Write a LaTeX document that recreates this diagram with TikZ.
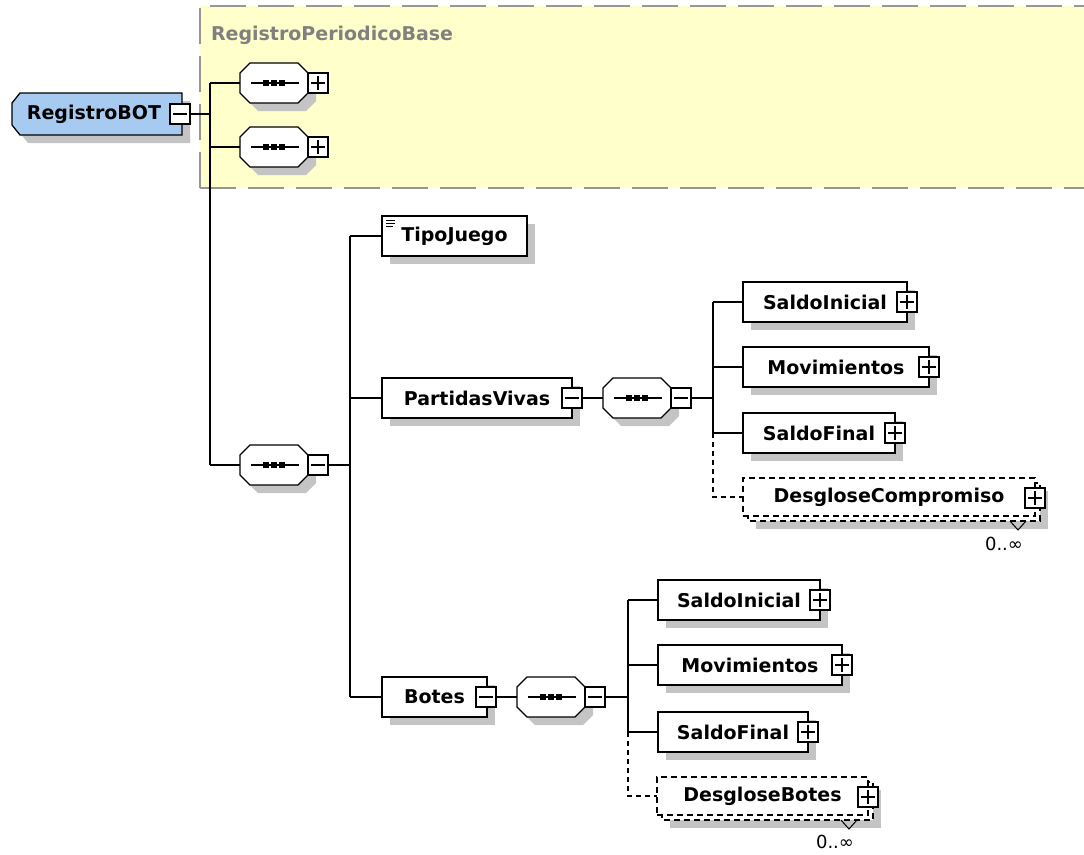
\documentclass[tikz,border=0pt]{standalone}
\usepackage{fontspec}
\setmainfont{DejaVu Sans}
\usetikzlibrary{shadows}
\definecolor{rootblue}{RGB}{166,202,240}
\definecolor{groupyellow}{RGB}{255,255,204}
\definecolor{groupline}{RGB}{150,150,150}
\definecolor{grouptext}{RGB}{128,128,128}
\definecolor{shadowgray}{RGB}{196,196,196}

% octagon outline of a sequence compositor, centred at the origin
\newcommand\octpath{(-34,-10) -- (-24,-20) -- (24,-20) -- (34,-10) -- (34,10) -- (24,20) -- (-24,20) -- (-34,10) -- cycle}

% sequence compositor: #1 name, #2 x, #3 y, #4 style of the expand box
\newcommand\seqnode[4]{%
  \begin{scope}[shift={(#2,#3)}]
    \begin{scope}[shift={(8,8)}]
      \fill[shadowgray] \octpath;
    \end{scope}
    \draw[fill=white, line width=1.3pt] \octpath;
    \node[minimum width=68pt, minimum height=40pt] (#1) at (0,0) {};
    \draw[line width=1.3pt] (-23,0) -- (25,0);
    \foreach \dx in {-8,0,8} \fill (\dx-3,-3) rectangle (\dx+3,3);
    \node[#4] (#1-pm) at (44,0) {};
  \end{scope}}

\begin{document}
\begin{tikzpicture}[x=1pt, y=-1pt,
  every node/.style={inner sep=0pt, outer sep=0pt},
  lbl/.style={font=\bfseries\fontsize{19}{19}\selectfont},
  elem/.style={lbl, draw, fill=white, line width=1.3pt, minimum height=40pt,
    drop shadow={shadow xshift=8pt, shadow yshift=-8pt, fill=shadowgray, opacity=1}},
  multi/.style={lbl, draw, fill=white, line width=1.2pt, minimum height=38pt,
    dash pattern=on 6pt off 4pt},
  backbox/.style={draw, fill=white, line width=1.2pt, dash pattern=on 6pt off 4pt},
  pm/.style={draw, fill=white, line width=1.1pt, minimum width=20pt, minimum height=20pt},
  plusbox/.style={pm, path picture={
    \draw[line width=1.1pt]
      ([xshift=3pt]path picture bounding box.west) -- ([xshift=-3pt]path picture bounding box.east)
      ([yshift=-3pt]path picture bounding box.north) -- ([yshift=3pt]path picture bounding box.south);}},
  minusbox/.style={pm, path picture={
    \draw[line width=1.1pt]
      ([xshift=3pt]path picture bounding box.west) -- ([xshift=-3pt]path picture bounding box.east);}},
  conn/.style={line width=1.3pt},
  optconn/.style={conn, dash pattern=on 5pt off 4pt},
  occ/.style={font=\fontsize{18}{18}\selectfont}
]
\useasboundingbox (0,0) rectangle (1084,854);

% inherited base-type group
\fill[groupyellow] (200,6) rectangle (1090,188);
\draw[groupline, line width=2pt, dash pattern=on 36pt off 12pt] (200,188) -- (200,6) -- (1090,6);
\draw[groupline, line width=2pt, dash pattern=on 36pt off 12pt] (200,188) -- (1090,188);
\node[lbl, text=grouptext, anchor=west] (base) at (211,35) {RegistroPeriodicoBase};

% root element
\fill[shadowgray] (20,111) -- (28,101) -- (190,101) -- (190,143) -- (28,143) -- (20,133) -- cycle;
\draw[fill=rootblue, line width=1.3pt] (12,103) -- (20,93) -- (182,93) -- (182,135) -- (20,135) -- (12,125) -- cycle;
\node[lbl] (root) at (94,114) {RegistroBOT};
\node[minusbox] (root-pm) at (180,114) {};

% compositors
\seqnode{s1}{274}{83}{plusbox}
\seqnode{s2}{274}{147}{plusbox}
\seqnode{s3}{274}{465}{minusbox}

% second-level elements
\node[elem, minimum width=145pt] (tj) at (454.5,236) {TipoJuego};
\draw[line width=1pt] (386,220) -- (395,220) (386,223) -- (395,223) (386,226) -- (393,226);
\node[elem, minimum width=190pt] (pv) at (477,398) {PartidasVivas};
\node[minusbox] (pv-pm) at (572,398) {};
\node[elem, minimum width=105pt] (bo) at (434.5,697) {Botes};
\node[minusbox] (bo-pm) at (486,697) {};

\seqnode{s4}{637}{398}{minusbox}
\seqnode{s5}{551}{697}{minusbox}

% children of PartidasVivas
\node[elem, minimum width=164pt] (si1) at (825,302) {SaldoInicial};
\node[plusbox] (si1-pm) at (907,302) {};
\node[elem, minimum width=186pt] (mv1) at (836,367) {Movimientos};
\node[plusbox] (mv1-pm) at (929,367) {};
\node[elem, minimum width=152pt] (sf1) at (819,433) {SaldoFinal};
\node[plusbox] (sf1-pm) at (895,433) {};

\fill[shadowgray] (756,491) rectangle (1048,529);
\draw[backbox] (748,483) rectangle (1040,521);
\node[multi, minimum width=292pt] (dc) at (889,497) {DesgloseCompromiso};
\node[plusbox] (dc-pm) at (1035,498) {};
\draw[line width=1pt] (1010,521) -- (1018,530) -- (1026,521);
\node[occ] (dc-occ) at (1004,544) {0..∞};

% children of Botes
\node[elem, minimum width=162pt] (si2) at (739,600) {SaldoInicial};
\node[plusbox] (si2-pm) at (820,600) {};
\node[elem, minimum width=184pt] (mv2) at (750,665) {Movimientos};
\node[plusbox] (mv2-pm) at (842,665) {};
\node[elem, minimum width=150pt] (sf2) at (733,732) {SaldoFinal};
\node[plusbox] (sf2-pm) at (808,732) {};

\fill[shadowgray] (670,790) rectangle (881,828);
\draw[backbox] (662,782) rectangle (873,820);
\node[multi, minimum width=211pt] (db) at (762.5,796) {DesgloseBotes};
\node[plusbox] (db-pm) at (868,797) {};
\draw[line width=1pt] (841,820) -- (849,829) -- (857,820);
\node[occ] (db-occ) at (835,842) {0..∞};

% bus lines
\coordinate (busA) at (210,0);
\coordinate (busB) at (350,0);
\coordinate (busC) at (713,0);
\coordinate (busD) at (628,0);

\draw[conn] (root-pm.east) -- (root-pm.east -| busA);
\draw[conn] (busA |- s1.west) -- (busA |- s3.west);
\draw[conn] (busA |- s1.west) -- (s1.west);
\draw[conn] (busA |- s2.west) -- (s2.west);
\draw[conn] (busA |- s3.west) -- (s3.west);

\draw[conn] (s3-pm.east) -- (s3-pm.east -| busB);
\draw[conn] (busB |- tj.west) -- (busB |- bo.west);
\draw[conn] (busB |- tj.west) -- (tj.west);
\draw[conn] (busB |- pv.west) -- (pv.west);
\draw[conn] (busB |- bo.west) -- (bo.west);

\draw[conn] (pv-pm.east) -- (s4.west);
\draw[conn] (s4-pm.east) -- (s4-pm.east -| busC);
\draw[conn] (busC |- si1.west) -- (busC |- sf1.west);
\draw[conn] (busC |- si1.west) -- (si1.west);
\draw[conn] (busC |- mv1.west) -- (mv1.west);
\draw[conn] (busC |- sf1.west) -- (sf1.west);
\draw[optconn] (busC |- sf1.west) -- (busC |- dc.west) -- (dc.west);

\draw[conn] (bo-pm.east) -- (s5.west);
\draw[conn] (s5-pm.east) -- (s5-pm.east -| busD);
\draw[conn] (busD |- si2.west) -- (busD |- sf2.west);
\draw[conn] (busD |- si2.west) -- (si2.west);
\draw[conn] (busD |- mv2.west) -- (mv2.west);
\draw[conn] (busD |- sf2.west) -- (sf2.west);
\draw[optconn] (busD |- sf2.west) -- (busD |- db.west) -- (db.west);
\end{tikzpicture}
\end{document}
